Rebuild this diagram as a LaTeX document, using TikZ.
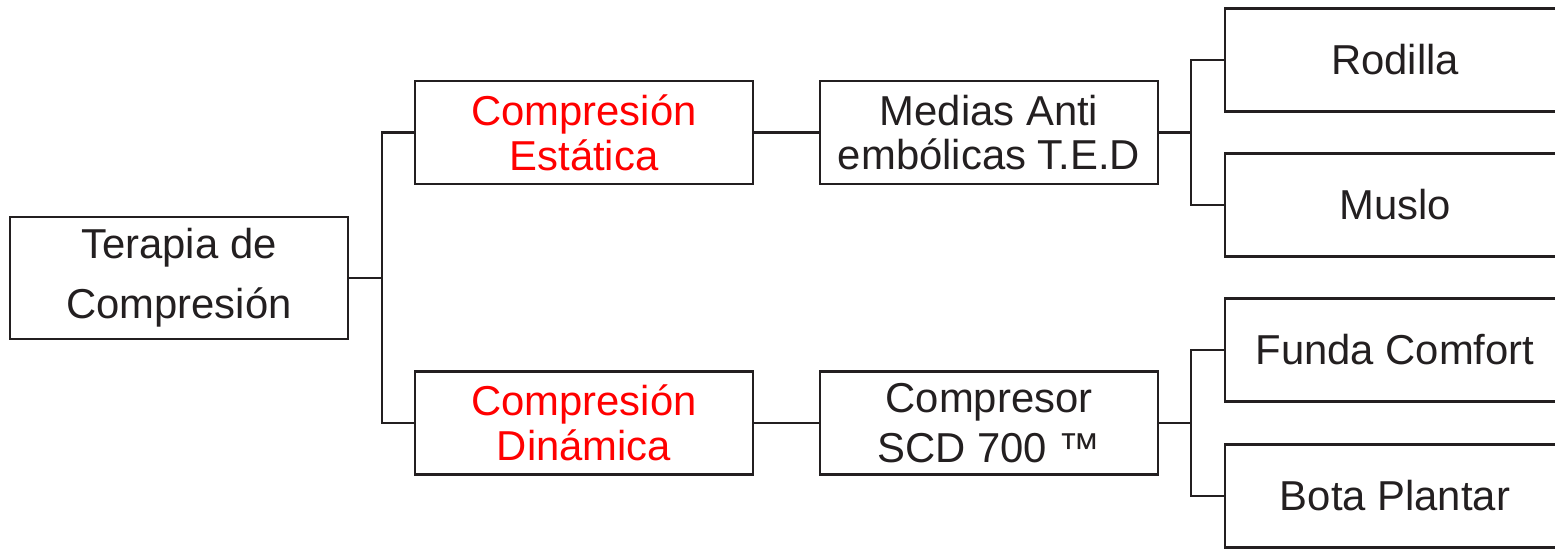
\documentclass[tikz,border=0pt]{standalone}
\usepackage{fontspec}
\setmainfont{Liberation Sans}
\usetikzlibrary{positioning}
\definecolor{inkgray}{RGB}{35,31,32}

\begin{document}
\begin{tikzpicture}
[x=0.02cm,y=-0.02cm,
 every node/.style={font=\fontsize{23.8pt}{25.5pt}\selectfont,text=inkgray},
 box/.style = {rectangle,draw=inkgray,line width=1.5pt,align=center,
        inner sep=0pt,minimum width=6.76cm,minimum height=2.06cm},
 leaf/.style = {box,minimum width=6.8cm},
 redtext/.style = {text=red},
 link/.style = {draw=inkgray,line width=1.5pt}]

\useasboundingbox (0,0) rectangle (1555,548);
\clip (0,0) rectangle (1555,548);

\node[box,minimum height=2.44cm] (root) at (179,278) {Terapia de\\[8.5pt]Compresión};

   \node[box,redtext] (estatica) at (584,132.5) {Compresión\\Estática};
   \node[box,redtext] (dinamica) at (584,423) {Compresión\\Dinámica};

   \node[box] (medias) at (989,132.5) {Medias Anti\\embólicas T.E.D};
   \node[box] (compresor) at (989,423) {Compresor\\[3pt]SCD 700 ™};

   \node[leaf] (rodilla) at (1395,60) {Rodilla};
   \node[leaf] (muslo) at (1395,205) {Muslo};
   \node[leaf] (funda) at (1395,350) {Funda Comfort};
   \node[leaf] (bota) at (1395,496) {Bota Plantar};

   \coordinate (split-root) at (382,278);
   \coordinate (split-medias) at (1191,132.5);
   \coordinate (split-compresor) at (1191,423);

   \path[link] (root.east) -- (split-root) |- (estatica.west);
   \path[link] (split-root) |- (dinamica.west);
   \path[link] (estatica) -- (medias);
   \path[link] (dinamica) -- (compresor);

   \path[link] (medias.east) -- (split-medias) |- (rodilla.west);
   \path[link] (split-medias) |- (muslo.west);
   \path[link] (compresor.east) -- (split-compresor) |- (funda.west);
   \path[link] (split-compresor) |- (bota.west);
%
\end{tikzpicture}
\end{document}
